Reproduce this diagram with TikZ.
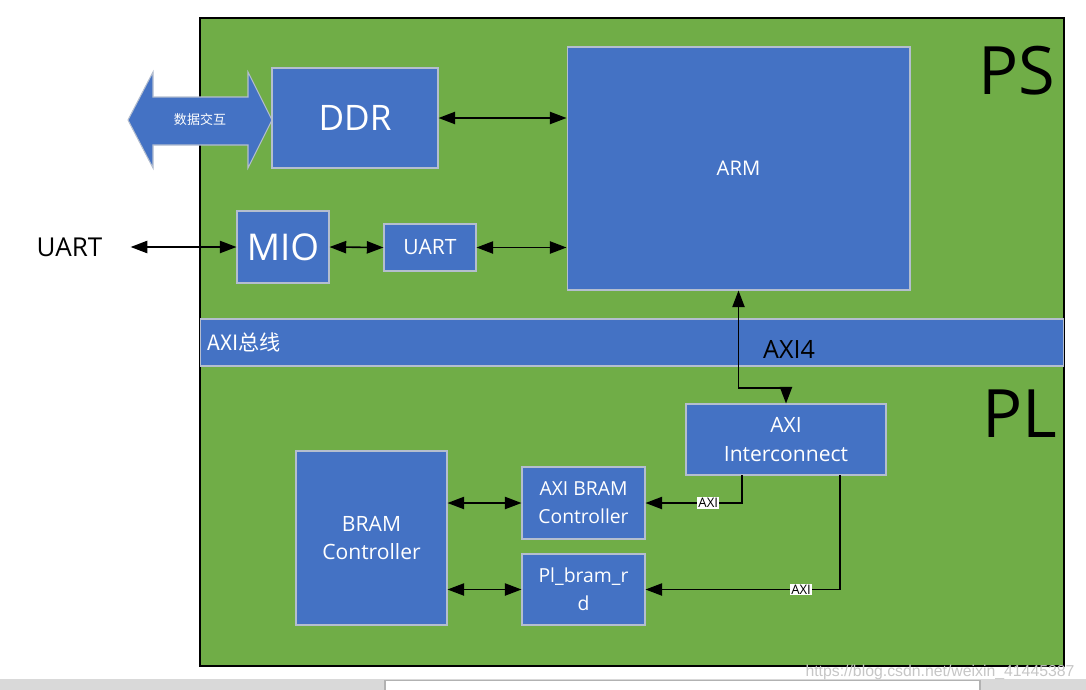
\documentclass[tikz,border=0pt]{standalone}
\usepackage{fontspec}
\setmainfont{Open Sans}
\newfontfamily\cjk{Noto Sans CJK SC}
\newfontfamily\webfont{Liberation Sans}
\usetikzlibrary{arrows.meta, positioning}
\definecolor{zynqgreen}{HTML}{70AD47}
\definecolor{zynqblue}{HTML}{4472C4}
\definecolor{edgegray}{HTML}{B4BECF}
\definecolor{bargray}{HTML}{D9D9D9}

\begin{document}
\begin{tikzpicture}[
    x=0.02cm, y=-0.02cm,
    block/.style={draw=edgegray, fill=zynqblue, text=white, align=center, inner sep=0pt, line width=0.6pt},
    link/.style={{Triangle[length=9.5pt, width=7pt]}-{Triangle[length=9.5pt, width=7pt]}, line width=0.9pt},
    tolink/.style={-{Triangle[length=9.5pt, width=7pt]}, line width=0.9pt},
    tag/.style={fill=white, inner sep=0.6pt, font=\fontsize{7.5}{8}\selectfont}
]
    \useasboundingbox (0,0) rectangle (1086,690);

    % screenshot strip at the bottom
    \fill[bargray] (0,679) rectangle (1086,690);
    \draw[fill=white, draw=gray!60, line width=0.6pt] (385,680.5) rectangle (980,692);

    % PS / PL area
    \node[draw, fill=zynqgreen, line width=0.85pt, minimum width=17.28cm, minimum height=12.96cm] (zone) at (632,342) {};
    \node[block, minimum width=17.28cm, minimum height=0.94cm] (band) at (632,342.5) {};
    \node[anchor=west, text=white, inner sep=0pt, font=\cjk\fontsize{12}{14}\selectfont] (bandtext) at ([xshift=0.15cm]band.west) {AXI总线};
    \node[font=\fontsize{38}{40}\selectfont] (ps) at (1017,71) {PS};
    \node[font=\fontsize{38}{40}\selectfont] (pl) at (1020,414) {PL};

    % PS side
    \fill[zynqblue, draw=edgegray, line width=0.6pt] (128,120) -- (153,72) -- (153,97) -- (248,97) -- (248,72) -- (272,120)
        -- (248,168) -- (248,145) -- (153,145) -- (153,168) -- cycle;
    \node[text=white, font=\cjk\fontsize{7.4}{9}\selectfont] (swap) at (200,120) {数据交互};
    \node[block, minimum width=3.32cm, minimum height=2cm, font=\fontsize{20}{24}\selectfont] (ddr) at (355,118) {DDR};
    \node[block, minimum width=6.86cm, minimum height=4.86cm, font=\fontsize{11.5}{13}\selectfont] (arm) at (738.5,168.5) {ARM};
    \node[block, minimum width=1.84cm, minimum height=1.44cm, font=\fontsize{21}{24}\selectfont] (mio) at (283,247) {MIO};
    \node[block, minimum width=1.84cm, minimum height=0.94cm, font=\fontsize{12}{14}\selectfont] (uart) at (430,247.5) {UART};
    \node[inner sep=0pt, font=\fontsize{14.8}{16}\selectfont] (uartpin) at (69.5,247) {UART};

    \draw[link] (ddr.east) -- (ddr.east -| arm.west);
    \draw[link] ([xshift=0.56cm]uartpin.east) -- (mio.west);
    \draw[link] (mio.east) -- (uart.west);
    \draw[link] (uart.east) -- (uart.east -| arm.west);

    % PL side
    \node[block, minimum width=4cm, minimum height=1.42cm, font=\fontsize{12}{16}\selectfont] (axiic) at (786,439.5) {AXI\\Interconnect};
    \node[block, minimum width=3.02cm, minimum height=3.48cm, font=\fontsize{12}{16}\selectfont] (bramctrl) at (371.5,538) {BRAM\\Controller};
    \node[block, minimum width=2.46cm, minimum height=1.44cm, font=\fontsize{11}{16}\selectfont] (axibram) at (583.5,503) {AXI BRAM\\Controller};
    \node[block, minimum width=2.46cm, minimum height=1.42cm, font=\fontsize{11}{16}\selectfont] (plbram) at (583.5,589.5) {Pl\_bram\_r\\d};
    \node[font=\fontsize{14.3}{16}\selectfont] (axifour) at (789,349) {AXI4};

    \coordinate (bend) at (760,388);
    \coordinate (tapa) at (742,475);
    \coordinate (tapb) at (840,475);

    \draw[link] (arm.south) |- (bend) -| (axiic.north);
    \draw[tolink] (tapa) |- (axibram.east) node[tag, pos=0.675] (taga) {AXI};
    \draw[tolink] (tapb) |- (plbram.east) node[tag, pos=0.6] (tagb) {AXI};
    \draw[link] (axibram.west -| bramctrl.east) -- (axibram.west);
    \draw[link] (plbram.west -| bramctrl.east) -- (plbram.west);

    % watermark
    \node[text=gray!45, font=\webfont\fontsize{9}{10}\selectfont] (mark) at (940,672) {https://blog.csdn.net/weixin\_41445387};
\end{tikzpicture}
\end{document}
